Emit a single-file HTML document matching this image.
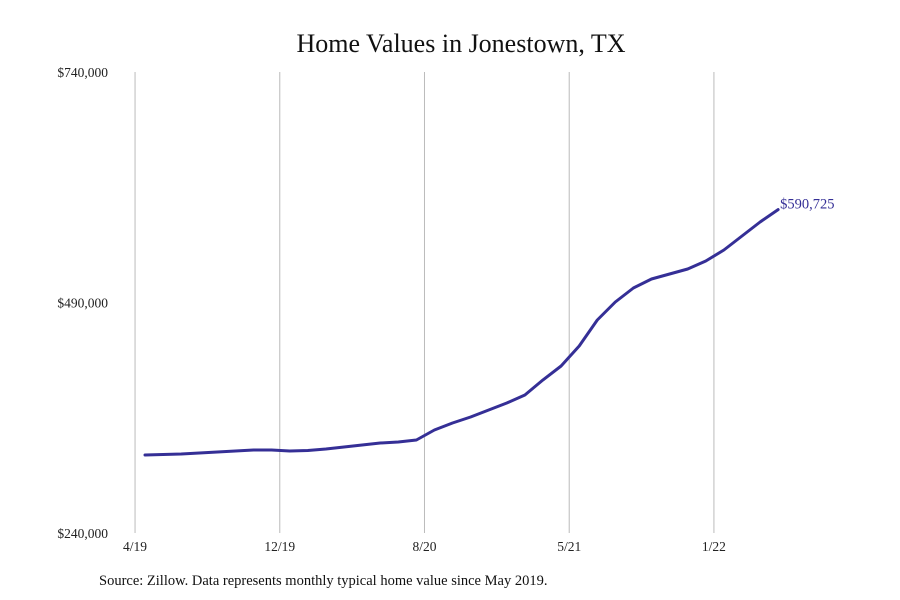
<!DOCTYPE html>
<html><head><meta charset="utf-8"><style>
html,body{margin:0;padding:0;background:#fff}
svg{display:block;font-family:"Liberation Serif",serif}
</style></head><body>
<svg id="chart" width="900" height="600">
<text x="461" y="52" text-anchor="middle" font-size="26" fill="#111">Home Values in Jonestown, TX</text>
<g id="grid"></g><g id="yaxis"></g><g id="xaxis"></g><g id="series"></g>
<text x="99" y="585" font-size="14.5" fill="#111">Source: Zillow. Data represents monthly typical home value since May 2019.</text>
</svg>
<script>
const values=[324600,325100,325700,326800,327900,328900,330000,330000,328900,329500,331100,333300,335400,337600,338700,340900,351700,359300,365800,373400,381000,389700,406000,421100,442800,471000,490500,505700,515500,520900,526300,535000,546900,562100,577300,590725];
const xTickLabels=["4/19","12/19","8/20","5/21","1/22"];
const xTickIndex=[-0.55,7.45,15.45,23.45,31.45];
const yTickValues=[240000,490000,740000];
const yTickLabels=["$240,000","$490,000","$740,000"];
const endLabel="$590,725";
const NS="http://www.w3.org/2000/svg";
const X0=145,DX=18.09,Y0=533,Y1=72,VMIN=240000,VMAX=740000;
const x=i=>X0+i*DX;
const y=v=>Y0-(v-VMIN)/(VMAX-VMIN)*(Y0-Y1);
function mk(t,a,p){const e=document.createElementNS(NS,t);for(const k in a)e.setAttribute(k,a[k]);p.appendChild(e);return e;}
const grid=document.getElementById('grid'),xa=document.getElementById('xaxis'),ya=document.getElementById('yaxis'),se=document.getElementById('series');
xTickIndex.forEach((ti,k)=>{
 const gl=mk('line',{x1:x(ti),x2:x(ti),y1:Y1,y2:Y0,stroke:'#bbb','stroke-width':1},grid);
 
 
 const t=mk('text',{x:x(ti),y:551,'text-anchor':'middle','font-size':13.5,fill:'#222'},xa);
 t.textContent=xTickLabels[k];
 
 
});
yTickValues.forEach((v,k)=>{
 const t=mk('text',{x:108,y:y(v)+5,'text-anchor':'end','font-size':13.5,fill:'#222'},ya);
 t.textContent=yTickLabels[k];
 
 
});
const d=values.map((v,i)=>(i?'L':'M')+x(i).toFixed(1)+','+y(v).toFixed(1)).join(' ');
const p=mk('path',{d:d,fill:'none',stroke:'#352f96','stroke-width':3,'stroke-linejoin':'round','stroke-linecap':'round'},se);


const li=values.length-1;
const lab=mk('text',{x:x(li)+2,y:y(values[li])-1,'font-size':14.5,fill:'#352f96'},se);
lab.textContent=endLabel;


</script>
</body></html>
